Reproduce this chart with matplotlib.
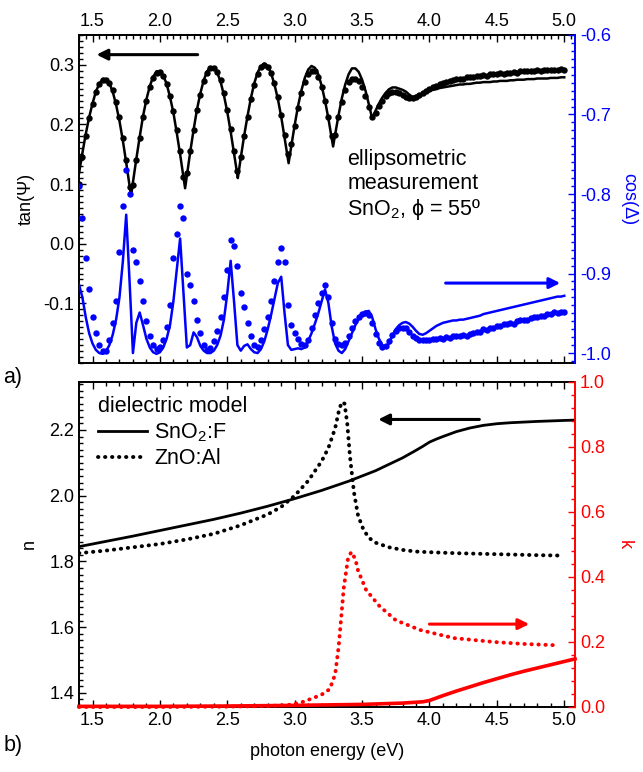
import numpy as np
import matplotlib
matplotlib.use("Agg")
import matplotlib.pyplot as plt
from matplotlib.ticker import MultipleLocator, FixedLocator, FormatStrFormatter

plt.rcParams['font.family'] = ['Liberation Sans', 'DejaVu Sans']
plt.rcParams['mathtext.fontset'] = 'custom'
plt.rcParams['mathtext.rm'] = 'Liberation Sans'
plt.rcParams['mathtext.it'] = 'Liberation Sans:italic'
plt.rcParams['mathtext.bf'] = 'Liberation Sans:bold'
plt.rcParams['axes.unicode_minus'] = False

BLUE = '#0000ff'
RED = '#ff0000'

# --- a) ellipsometry, SnO2 film at 55 deg ---
# photon energies of the measured points (eV), 25 meV step
energy = np.round(np.arange(1.400, 5.0001, 0.025), 3)

tanpsi_meas = [
    0.100, 0.145, 0.180, 0.210, 0.235, 0.254, 0.267, 0.274, 0.275, 0.270,
    0.258, 0.238, 0.212, 0.178, 0.140, 0.095, 0.098, 0.140, 0.178, 0.212,
    0.240, 0.262, 0.278, 0.286, 0.288, 0.282, 0.268, 0.248, 0.222, 0.190,
    0.155, 0.112, 0.118, 0.155, 0.190, 0.224, 0.250, 0.272, 0.286, 0.294,
    0.295, 0.288, 0.274, 0.252, 0.224, 0.192, 0.155, 0.122, 0.145, 0.180,
    0.213, 0.242, 0.266, 0.284, 0.296, 0.300, 0.297, 0.287, 0.270, 0.246,
    0.216, 0.182, 0.150, 0.168, 0.198, 0.228, 0.252, 0.271, 0.284, 0.290,
    0.289, 0.280, 0.263, 0.240, 0.212, 0.180, 0.183, 0.212, 0.238, 0.258,
    0.271, 0.277, 0.277, 0.272, 0.262, 0.248, 0.230, 0.212, 0.220, 0.231,
    0.240, 0.247, 0.252, 0.254, 0.254, 0.252, 0.249, 0.246, 0.244, 0.244,
    0.246, 0.249, 0.253, 0.256, 0.259, 0.262, 0.265, 0.267, 0.270, 0.271,
    0.273, 0.274, 0.276, 0.277, 0.277, 0.279, 0.279, 0.280, 0.281, 0.281,
    0.283, 0.282, 0.284, 0.284, 0.285, 0.286, 0.285, 0.287, 0.287, 0.288,
    0.287, 0.289, 0.289, 0.290, 0.289, 0.290, 0.291, 0.290, 0.291, 0.292,
    0.291, 0.292, 0.292, 0.293, 0.292,
]

tanpsi_fit = [
    0.118, 0.152, 0.184, 0.212, 0.235, 0.255, 0.268, 0.276, 0.276, 0.269,
    0.255, 0.233, 0.206, 0.173, 0.136, 0.097, 0.103, 0.142, 0.179, 0.214,
    0.242, 0.264, 0.280, 0.289, 0.289, 0.282, 0.268, 0.246, 0.220, 0.186,
    0.150, 0.112, 0.114, 0.154, 0.191, 0.225, 0.252, 0.274, 0.289, 0.296,
    0.296, 0.287, 0.272, 0.249, 0.221, 0.188, 0.152, 0.115, 0.144, 0.181,
    0.214, 0.244, 0.269, 0.287, 0.298, 0.302, 0.298, 0.286, 0.267, 0.243,
    0.213, 0.178, 0.142, 0.164, 0.199, 0.231, 0.257, 0.278, 0.292, 0.298,
    0.295, 0.284, 0.265, 0.240, 0.210, 0.177, 0.183, 0.215, 0.244, 0.267,
    0.284, 0.294, 0.294, 0.288, 0.275, 0.257, 0.234, 0.210, 0.223, 0.235,
    0.245, 0.253, 0.259, 0.262, 0.262, 0.260, 0.258, 0.255, 0.250, 0.246,
    0.248, 0.250, 0.252, 0.254, 0.256, 0.258, 0.259, 0.261, 0.262, 0.263,
    0.264, 0.265, 0.266, 0.267, 0.267, 0.268, 0.268, 0.269, 0.270, 0.270,
    0.271, 0.271, 0.271, 0.272, 0.272, 0.273, 0.273, 0.273, 0.274, 0.274,
    0.275, 0.275, 0.275, 0.276, 0.276, 0.276, 0.277, 0.277, 0.277, 0.277,
    0.278, 0.278, 0.278, 0.279, 0.279,
]
# model minima (interference fringes), between grid points
tanpsi_fit_min_e = [1.786, 2.187, 2.578, 2.955, 3.285, 3.575, 3.875]
tanpsi_fit_min = [0.080, 0.093, 0.110, 0.135, 0.163, 0.210, 0.246]

cosdelta_meas = [
    -0.790, -0.830, -0.880, -0.920, -0.955, -0.975, -0.990, -0.998, -0.997, -0.983,
    -0.962, -0.935, -0.873, -0.815, -0.770, -0.800, -0.870, -0.885, -0.910, -0.935,
    -0.960, -0.978, -0.990, -0.995, -0.993, -0.983, -0.967, -0.940, -0.880, -0.850,
    -0.815, -0.830, -0.900, -0.915, -0.935, -0.958, -0.975, -0.990, -0.996, -0.994,
    -0.985, -0.972, -0.955, -0.930, -0.895, -0.858, -0.865, -0.890, -0.925, -0.942,
    -0.962, -0.978, -0.990, -0.993, -0.983, -0.970, -0.955, -0.935, -0.910, -0.885,
    -0.868, -0.885, -0.940, -0.965, -0.975, -0.982, -0.988, -0.990, -0.984, -0.968,
    -0.952, -0.937, -0.924, -0.915, -0.930, -0.962, -0.982, -0.988, -0.990, -0.987,
    -0.978, -0.968, -0.960, -0.955, -0.951, -0.950, -0.952, -0.962, -0.976, -0.987,
    -0.992, -0.991, -0.985, -0.977, -0.972, -0.969, -0.968, -0.969, -0.974, -0.978,
    -0.981, -0.983, -0.984, -0.983, -0.983, -0.982, -0.982, -0.981, -0.982, -0.980,
    -0.981, -0.979, -0.979, -0.978, -0.977, -0.978, -0.976, -0.975, -0.973, -0.973,
    -0.970, -0.971, -0.968, -0.968, -0.966, -0.966, -0.964, -0.963, -0.962, -0.963,
    -0.960, -0.959, -0.958, -0.959, -0.956, -0.955, -0.955, -0.953, -0.953, -0.951,
    -0.951, -0.949, -0.950, -0.948, -0.949,
]

cosdelta_fit = [
    -0.914, -0.930, -0.955, -0.975, -0.988, -0.996, -1.000, -1.001, -0.998, -0.990,
    -0.977, -0.958, -0.930, -0.885, -0.826, -0.910, -1.000, -0.962, -0.949, -0.965,
    -0.982, -0.993, -0.999, -1.001, -0.999, -0.993, -0.982, -0.965, -0.935, -0.895,
    -0.856, -0.925, -0.993, -0.990, -0.974, -0.980, -0.991, -0.997, -1.000, -1.000,
    -0.997, -0.990, -0.978, -0.958, -0.925, -0.884, -0.935, -0.990, -0.997, -0.991,
    -0.989, -0.995, -0.999, -1.000, -0.995, -0.985, -0.970, -0.952, -0.932, -0.912,
    -0.904, -0.950, -0.990, -0.996, -0.995, -0.994, -0.995, -0.993, -0.985, -0.975,
    -0.963, -0.950, -0.935, -0.920, -0.937, -0.967, -0.988, -0.997, -1.000, -0.995,
    -0.985, -0.975, -0.965, -0.957, -0.952, -0.948, -0.947, -0.955, -0.970, -0.982,
    -0.990, -0.992, -0.988, -0.978, -0.970, -0.965, -0.962, -0.961, -0.963, -0.967,
    -0.972, -0.976, -0.977, -0.975, -0.972, -0.969, -0.966, -0.964, -0.962, -0.961,
    -0.960, -0.959, -0.959, -0.958, -0.958, -0.957, -0.956, -0.955, -0.954, -0.953,
    -0.951, -0.950, -0.949, -0.948, -0.947, -0.946, -0.945, -0.944, -0.943, -0.942,
    -0.941, -0.940, -0.939, -0.938, -0.937, -0.936, -0.935, -0.934, -0.933, -0.932,
    -0.931, -0.930, -0.929, -0.929, -0.928,
]

# --- b) dielectric model: refractive index n and extinction k ---
n_sno2_e = [1.40, 1.6, 1.8, 2.0, 2.2, 2.4, 2.6, 2.8, 3.0, 3.2, 3.4, 3.6, 3.8, 3.9,
            3.95, 4.0, 4.05, 4.1, 4.2, 4.3, 4.4, 4.5, 4.6, 4.8, 5.0, 5.08]
n_sno2 = [1.845, 1.861, 1.877, 1.894, 1.911, 1.928, 1.947, 1.968, 1.991, 2.016,
          2.044, 2.076, 2.115, 2.138, 2.150, 2.163, 2.172, 2.180, 2.195, 2.206,
          2.214, 2.219, 2.222, 2.226, 2.229, 2.230]

n_zno_e = [1.40, 1.6, 1.8, 2.0, 2.2, 2.4, 2.6, 2.8, 2.9, 3.0, 3.1, 3.2, 3.25, 3.3,
           3.33, 3.35, 3.37, 3.39, 3.41, 3.44, 3.47, 3.51, 3.55, 3.6, 3.7, 3.8,
           3.9, 4.0, 4.2, 4.4, 4.6, 4.8, 4.95]
n_zno = [1.825, 1.833, 1.843, 1.853, 1.867, 1.884, 1.910, 1.943, 1.966, 2.000,
         2.045, 2.105, 2.145, 2.205, 2.262, 2.285, 2.280, 2.220, 2.120, 2.010,
         1.940, 1.897, 1.872, 1.857, 1.843, 1.835, 1.830, 1.828, 1.825, 1.823,
         1.821, 1.819, 1.818]

k_zno_e = [1.40, 2.0, 2.5, 2.8, 2.95, 3.05, 3.14, 3.2, 3.26, 3.30, 3.326, 3.344,
           3.365, 3.396, 3.42, 3.45, 3.47, 3.53, 3.63, 3.75, 3.93, 4.18, 4.48,
           4.7, 4.94]
k_zno = [0.000, 0.000, 0.001, 0.003, 0.006, 0.014, 0.028, 0.038, 0.055, 0.100,
         0.185, 0.270, 0.370, 0.457, 0.477, 0.455, 0.420, 0.360, 0.310, 0.267,
         0.237, 0.212, 0.200, 0.194, 0.190]

k_sno2_e = [1.40, 2.0, 2.5, 3.0, 3.5, 3.8, 3.95, 4.0, 4.1, 4.2, 4.3, 4.4, 4.5,
            4.6, 4.7, 4.8, 4.9, 5.0, 5.08]
k_sno2 = [0.002, 0.002, 0.003, 0.005, 0.008, 0.012, 0.016, 0.020, 0.035, 0.049,
          0.062, 0.075, 0.087, 0.099, 0.110, 0.120, 0.130, 0.140, 0.148]

TICK_FS = 13
LABEL_FS = 13
TEXT_FS = 15.5

fig = plt.figure(figsize=(6.43, 7.72), dpi=100)
ax1 = fig.add_axes([0.1229, 0.5298, 0.7714, 0.4249])
ax1r = ax1.twinx()
ax2 = fig.add_axes([0.1229, 0.0842, 0.7714, 0.4210])
ax2r = ax2.twinx()

# top panel: tan(psi) on the left, cos(delta) on the right
e_fit = np.concatenate([energy, tanpsi_fit_min_e])
psi_fit = np.concatenate([tanpsi_fit, tanpsi_fit_min])
order = np.argsort(e_fit)
ax1.plot(e_fit[order], psi_fit[order], color='k', lw=1.8, zorder=2)
ax1.plot(energy, tanpsi_meas, 'o', color='k', ms=4.6, mec='none', zorder=3)
ax1r.plot(energy, cosdelta_fit, color=BLUE, lw=1.8, zorder=2)
ax1r.plot(energy, cosdelta_meas, 'o', color=BLUE, ms=4.6, mec='none', zorder=3)

ax1.set_xlim(1.40, 5.08)
ax1.set_ylim(-0.2, 0.35)
ax1r.set_ylim(-1.0125, -0.6)

arrow = dict(arrowstyle='-|>', lw=2.2, mutation_scale=16, shrinkA=0, shrinkB=0)
ax1.annotate('', xy=(1.53, 0.317), xytext=(2.28, 0.317),
             arrowprops=dict(arrow, color='k'))
ax1r.annotate('', xy=(4.97, -0.912), xytext=(4.12, -0.912),
              arrowprops=dict(arrow, color=BLUE))

ax1.text(3.39, 0.158, 'ellipsometric\nmeasurement\nSnO$_2$, \u03d5 = 55\u00ba',
         fontsize=TEXT_FS, ha='left', va='top', linespacing=1.15)

# bottom panel: n on the left, k on the right
ax2.plot(n_sno2_e, n_sno2, color='k', lw=2.0, label='SnO$_2$:F')
ax2.plot(n_zno_e, n_zno, color='k', lw=2.8, ls=(0, (0.1, 1.7)),
         dash_capstyle='round', label='ZnO:Al')
ax2r.plot(k_zno_e, k_zno, color=RED, lw=2.8, ls=(0, (0.1, 1.7)),
          dash_capstyle='round', clip_on=False)
ax2r.plot(k_sno2_e, k_sno2, color=RED, lw=2.6, clip_on=False)

ax2.set_xlim(1.40, 5.08)
ax2.set_ylim(1.357, 2.346)
ax2r.set_ylim(0.0, 1.0)

ax2.annotate('', xy=(3.62, 2.232), xytext=(4.37, 2.232),
             arrowprops=dict(arrow, color='k'))
ax2r.annotate('', xy=(4.74, 0.255), xytext=(4.0, 0.255),
              arrowprops=dict(arrow, color=RED))

leg = ax2.legend(loc='upper left', bbox_to_anchor=(0.01, 1.0), frameon=False,
                 title='dielectric model', fontsize=TEXT_FS,
                 title_fontsize=TEXT_FS, handlelength=2.3, handletextpad=0.3,
                 labelspacing=0.2, borderaxespad=0.25, alignment='left')

# axes styling
SPINE_W = 1.4
for ax, twin, col in ((ax1, ax1r, BLUE), (ax2, ax2r, RED)):
    ax.spines['right'].set_visible(False)
    for s in ('left', 'top', 'bottom'):
        ax.spines[s].set_linewidth(SPINE_W)
        twin.spines[s].set_visible(False)
    twin.spines['right'].set_color(col)
    twin.spines['right'].set_linewidth(SPINE_W)
    ax.tick_params(which='both', direction='in', width=1.0, labelsize=TICK_FS)
    ax.tick_params(which='major', length=5)
    ax.tick_params(which='minor', length=2.6)
    twin.tick_params(which='both', direction='in', width=1.0, colors=col,
                     labelsize=TICK_FS)
    twin.tick_params(which='major', length=5)
    twin.tick_params(which='minor', length=2.6)
    ax.xaxis.set_major_locator(MultipleLocator(0.5))
    ax.xaxis.set_minor_locator(MultipleLocator(0.1))
    ax.yaxis.set_major_formatter(FormatStrFormatter('%.1f'))
    twin.yaxis.set_major_formatter(FormatStrFormatter('%.1f'))

ax1.tick_params(axis='x', which='both', bottom=True, top=False, labelbottom=False)
sec = ax1.secondary_xaxis('top')
sec.xaxis.set_major_locator(MultipleLocator(0.5))
sec.xaxis.set_minor_locator(MultipleLocator(0.05))
sec.xaxis.set_major_formatter(FormatStrFormatter('%.1f'))
sec.spines['top'].set_linewidth(SPINE_W)
sec.tick_params(which='both', direction='in', width=1.0, labelsize=TICK_FS)
sec.tick_params(which='major', length=5)
sec.tick_params(which='minor', length=2.6)

ax2.tick_params(axis='x', which='both', bottom=True, top=True, labeltop=False)

ax1.yaxis.set_major_locator(FixedLocator([-0.1, 0.0, 0.1, 0.2, 0.3]))
ax1.yaxis.set_minor_locator(MultipleLocator(0.01))
ax1r.yaxis.set_major_locator(MultipleLocator(0.1))
ax1r.yaxis.set_minor_locator(MultipleLocator(0.01))
ax2.yaxis.set_major_locator(FixedLocator([1.4, 1.6, 1.8, 2.0, 2.2]))
ax2.yaxis.set_minor_locator(MultipleLocator(0.02))
ax2r.yaxis.set_major_locator(MultipleLocator(0.2))
ax2r.yaxis.set_minor_locator(MultipleLocator(0.04))

ax1.set_ylabel('tan(\u03a8)', fontsize=LABEL_FS, labelpad=6)
ax1r.set_ylabel('cos(\u0394)', fontsize=LABEL_FS, color=BLUE, rotation=270,
                va='bottom', labelpad=7)
ax2.set_ylabel('n', fontsize=LABEL_FS, labelpad=8)
ax2r.set_ylabel('k', fontsize=LABEL_FS, color=RED, rotation=270,
                va='bottom', labelpad=8)
ax2.set_xlabel('photon energy (eV)', fontsize=LABEL_FS, labelpad=10)

fig.text(0.005, 1 - 378 / 772, 'a)', fontsize=TEXT_FS, va='center')
fig.text(0.005, 1 - 745 / 772, 'b)', fontsize=TEXT_FS, va='center')

fig.savefig('out.png', dpi=100)
plt.close('all')
